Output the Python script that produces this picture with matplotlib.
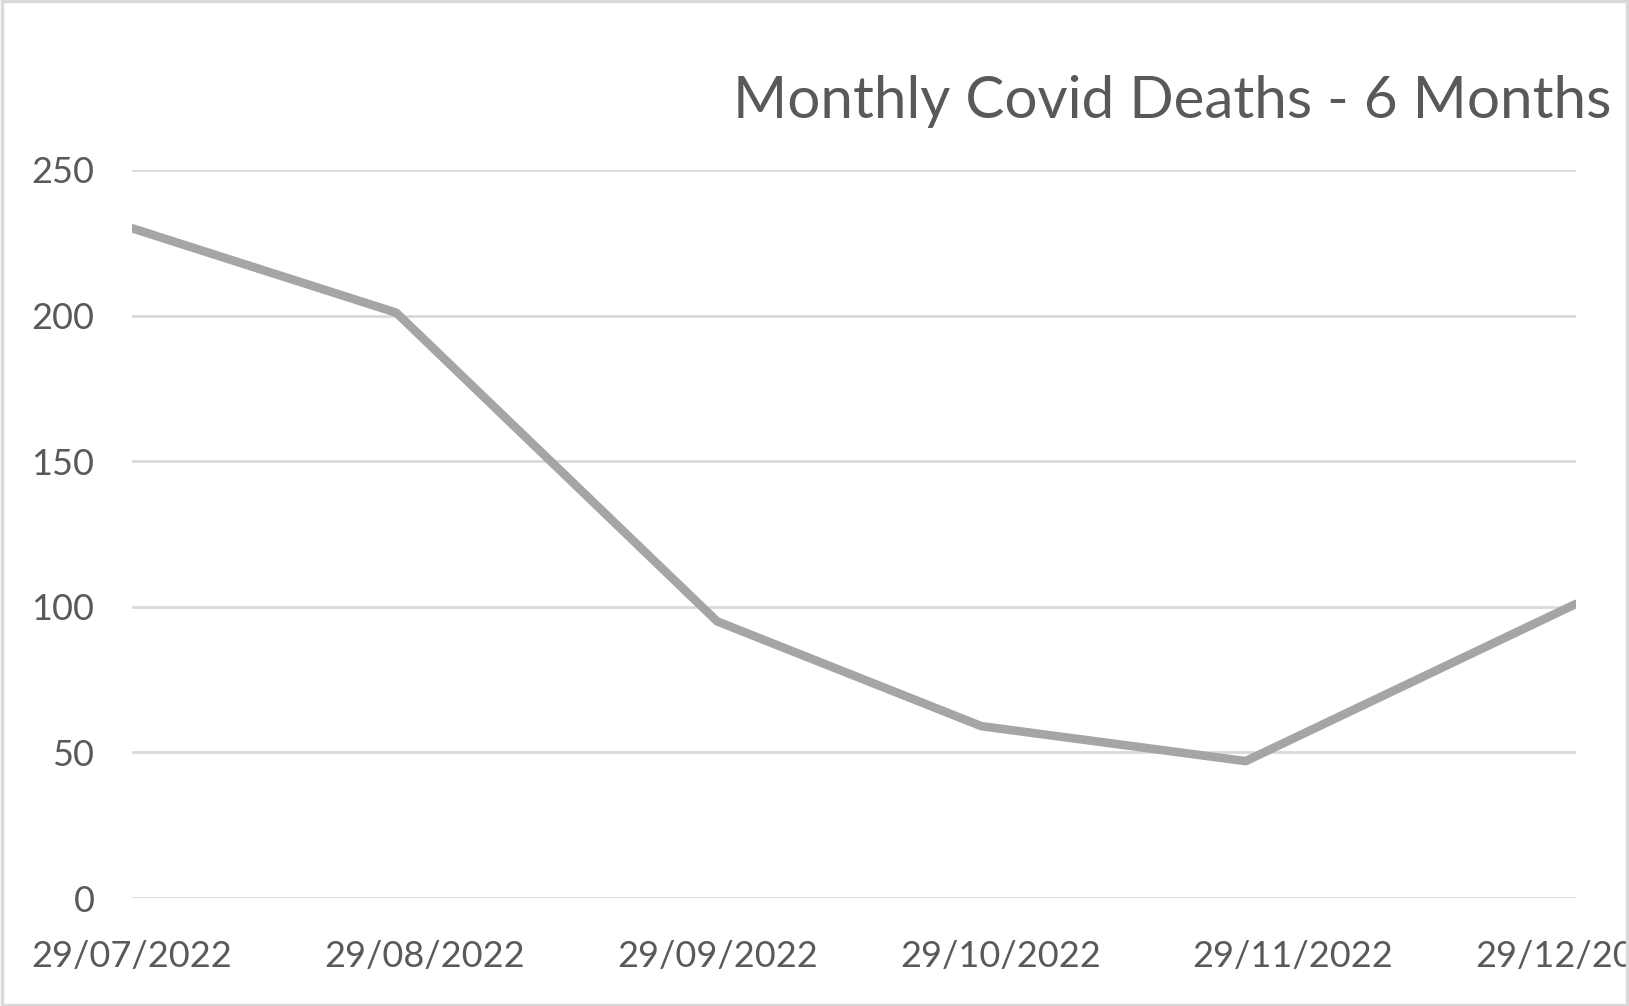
import pandas as pd
import matplotlib.pyplot as plt
import matplotlib.dates as mdates
from matplotlib.patches import Rectangle

# data
dates = ['2022-07-29', '2022-08-26', '2022-09-29', '2022-10-27', '2022-11-24', '2022-12-29']
deaths = [230, 201, 95, 59, 47, 101]
tick_dates = ['2022-07-29', '2022-08-29', '2022-09-29', '2022-10-29', '2022-11-29', '2022-12-29']
title = 'Monthly Covid Deaths - 6 Months'

x = pd.to_datetime(dates)
ticks = pd.to_datetime(tick_dates)

txt = '#595959'
plt.rcParams['font.family'] = ['Lato', 'DejaVu Sans']

fig = plt.figure(figsize=(16.29, 10.06), dpi=100)
ax = fig.add_axes([132 / 1629, 1 - 898 / 1006, (1576 - 132) / 1629, (898 - 170) / 1006])

ax.plot(x, deaths, color='#A5A5A5', lw=6.2, solid_capstyle='round', solid_joinstyle='round', zorder=3)

ax.set_xlim(x[0], x[-1])
ax.set_ylim(0, 250)
ax.set_yticks([0, 50, 100, 150, 200, 250])
ax.set_xticks(ticks)
ax.xaxis.set_major_formatter(mdates.DateFormatter('%d/%m/%Y'))
ax.grid(axis='y', color='#D9D9D9', lw=2)
ax.set_axisbelow(True)
for s in ax.spines.values():
    s.set_visible(False)
ax.tick_params(axis='both', length=0, labelsize=26, labelcolor=txt)
ax.tick_params(axis='y', pad=27)
ax.tick_params(axis='x', pad=30)
for lab in ax.get_xticklabels():
    lab.set_clip_on(False)

fig.text(1611 / 1629, 1 - 101 / 1006, title, ha='right', va='center',
         fontsize=42, color=txt)

fig.patches.append(Rectangle((0.001, 0.001), 0.998, 0.998, transform=fig.transFigure,
                             fill=False, edgecolor='#D9D9D9', lw=2.5, zorder=10))

fig.savefig('out.png', dpi=100)
